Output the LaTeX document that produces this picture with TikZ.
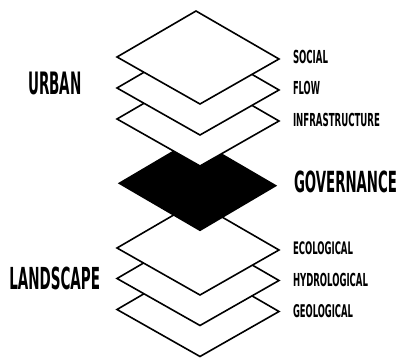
\documentclass[tikz,border=0pt]{standalone}
\usepackage{fontspec}
\usepackage{graphicx}
\newfontfamily\lblfont{DejaVu Sans Condensed Bold}
\newcommand\lbl[3]{\resizebox{#1pt}{#2pt}{\lblfont #3}}
\newcommand\layerpath[2]{(#1+79,#2-46) -- (#1+162,#2+2) -- (#1+83,#2+47) -- (#1,#2) -- cycle}
\tikzset{
  layer/.style={draw=black, fill=white, line width=1.6pt, line join=miter},
  core/.style={fill=black},
  lab/.style={anchor=south west, inner sep=0pt, outer sep=0pt}
}
\begin{document}
\begin{tikzpicture}[x=1pt,y=-1pt]
\useasboundingbox[fill=white] (0,0) rectangle (399,358);
% lower layers, bottom first
\draw[layer] \layerpath{117}{309.5};
\draw[layer] \layerpath{117}{278.5};
\draw[layer] \layerpath{117}{248};
% governance core
\fill[core] (195,137.8) -- (277.2,185.7) -- (200,231.2) -- (117.8,183.3) -- cycle;
% upper layers
\draw[layer] \layerpath{117}{119};
\draw[layer] \layerpath{117}{88};
\draw[layer] \layerpath{117}{57};
% labels
\node[lab] (social) at (293,63.3) {\lbl{35}{13.3}{SOCIAL}};
\node[lab] (flow) at (293,95) {\lbl{27}{13.3}{FLOW}};
\node[lab] (infra) at (293,126.7) {\lbl{87}{13.3}{INFRASTRUCTURE}};
\node[lab] (gov) at (294,193.3) {\lbl{103}{21.6}{GOVERNANCE}};
\node[lab] (eco) at (293,254.3) {\lbl{60}{12.8}{ECOLOGICAL}};
\node[lab] (hydro) at (293,286.7) {\lbl{75}{13.3}{HYDROLOGICAL}};
\node[lab] (geo) at (293,318) {\lbl{60}{13}{GEOLOGICAL}};
\node[lab] (urban) at (28.3,95) {\lbl{53.4}{22.5}{URBAN}};
\node[lab] (land) at (9.3,290) {\lbl{90.7}{22.5}{LANDSCAPE}};
\end{tikzpicture}
\end{document}
